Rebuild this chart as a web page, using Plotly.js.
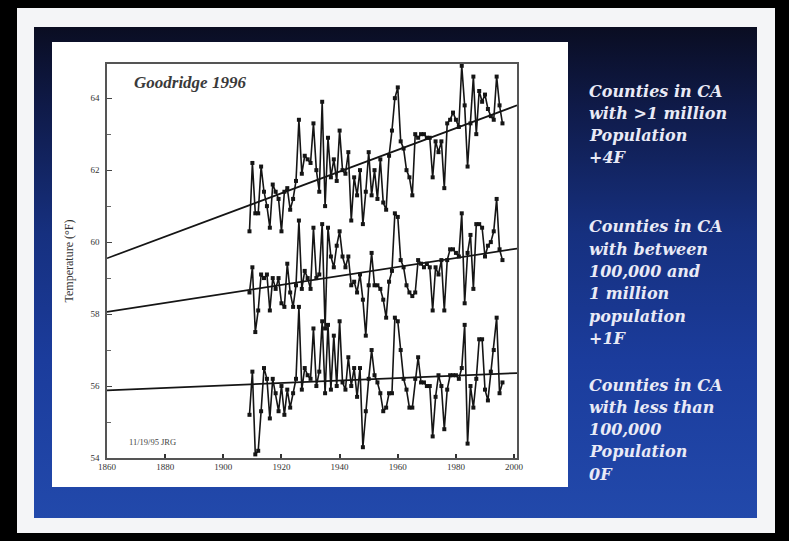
<!DOCTYPE html>
<html>
<head>
<meta charset="utf-8">
<script src="https://cdn.plot.ly/plotly-3.0.1.min.js"></script>
<style>
  html, body { margin:0; padding:0; background:#000; }
  #wrap { position:relative; width:789px; height:541px; background:#000; overflow:hidden; }
  #frame { position:absolute; left:17px; top:8px; width:758px; height:525px; background:#f4f5f7; }
  #blue { position:absolute; left:34px; top:27px; width:723px; height:491px;
          background: linear-gradient(180deg, #0a0d22 0%, #0f1a48 16%, #16307f 42%, #1b3c9c 68%, #2249ab 100%); }
  #chart { position:absolute; left:0; top:0; width:789px; height:541px; }
</style>
</head>
<body>
<div id="wrap">
  <div id="frame"></div>
  <div id="blue"></div>
  <div id="chart"></div>
</div>
<script>
// Years of record
var years = [];
for (var y = 1909; y <= 1996; y++) years.push(y);

// Counties > 1 million population
var bigCounties = [
 60.3,62.2,60.8,60.8,62.1,61.4,61.0,60.4,61.6,61.4,
 61.2,60.3,61.4,61.5,60.9,61.2,61.7,63.4,61.9,62.4,
 62.3,62.2,63.3,62.0,61.4,63.9,61.0,62.9,61.8,62.3,
 61.7,63.1,62.0,61.9,62.5,60.6,61.8,61.3,62.0,60.5,
 61.4,62.5,61.3,62.0,61.2,62.3,61.1,60.9,62.4,63.1,
 64.0,64.3,62.8,62.6,62.0,61.8,61.3,63.0,62.9,63.0,
 63.0,62.9,62.9,61.8,62.8,62.5,62.8,61.5,63.3,63.4,
 63.6,63.4,63.2,64.9,63.8,62.1,63.3,64.6,63.0,64.2,
 63.9,64.1,63.7,63.5,63.4,64.6,63.8,63.3
];

// Counties 100,000 – 1 million population
var midCounties = [
 58.6,59.3,57.5,58.1,59.1,59.0,59.1,58.1,59.0,58.7,
 59.0,58.3,58.2,59.4,58.6,58.2,58.8,60.6,58.7,59.2,
 59.0,58.7,60.4,59.0,59.1,60.5,57.6,60.4,59.6,59.3,
 59.9,60.3,59.6,59.3,59.6,58.8,58.9,58.6,59.1,58.4,
 57.4,58.8,59.7,58.8,58.8,58.7,58.4,57.9,58.9,59.2,
 60.8,60.7,59.5,59.3,58.8,58.6,58.5,58.6,59.5,59.4,
 59.3,59.4,59.3,58.1,59.3,59.1,59.5,58.1,59.5,59.8,
 59.8,59.7,59.6,60.8,58.3,59.7,60.2,58.7,60.5,60.5,
 60.4,59.6,59.9,60.0,60.3,61.2,59.8,59.5
];

// Counties < 100,000 population
var smallCounties = [
 55.2,56.4,54.1,54.2,55.3,56.5,56.2,55.1,56.2,55.8,
 55.3,56.0,55.2,55.9,55.4,55.8,56.2,58.2,55.9,56.5,
 56.3,56.2,57.6,56.0,56.4,57.8,55.8,57.7,55.9,57.4,
 56.0,57.8,56.1,55.9,56.8,56.0,56.5,55.7,56.5,54.3,
 55.3,56.2,57.0,56.3,56.1,55.8,55.3,55.4,55.8,55.8,
 57.9,57.8,57.0,56.2,55.9,55.4,55.4,56.2,56.8,56.1,
 56.1,56.0,56.0,54.6,55.7,56.3,56.0,54.8,55.9,56.3,
 56.3,56.3,56.2,56.5,57.7,54.4,56.0,55.4,56.2,57.3,
 57.3,55.9,55.6,56.4,57.0,57.9,55.8,56.1
];

// Linear trend lines (end points)
var trendYears = [1860, 2001];
var trendBig   = [59.55, 63.80];
var trendMid   = [58.06, 59.82];
var trendSmall = [55.88, 56.36];

var xTicks = [1860, 1880, 1900, 1920, 1940, 1960, 1980, 2000];
var yTicks = [54, 56, 58, 60, 62, 64];

var sideText = [
  ["Counties in CA", "with >1 million", "Population", "+4F"],
  ["Counties in CA", "with between", "100,000 and", "1 million", "population", "+1F"],
  ["Counties in CA", "with less than", "100,000", "Population", "0F"]
];

function dataTrace(v) {
  return {x: years, y: v, type: 'scatter', mode: 'lines+markers',
          line: {color: '#151515', width: 1.6},
          marker: {color: '#151515', size: 4, symbol: 'square'},
          hoverinfo: 'skip', showlegend: false};
}
function trendTrace(v) {
  return {x: trendYears, y: v, type: 'scatter', mode: 'lines',
          line: {color: '#151515', width: 1.7}, hoverinfo: 'skip', showlegend: false};
}

var traces = [
  trendTrace(trendBig), trendTrace(trendMid), trendTrace(trendSmall),
  dataTrace(bigCounties), dataTrace(midCounties), dataTrace(smallCounties)
];

// plot area in pixels: left 107, right 517, top 64, bottom 458
var L = 107, R = 272, T = 64, B = 83, W = 789 - L - R, H = 541 - T - B;
function px(x) { return (x - L) / W; }
function py(y) { return (541 - B - y) / H; }

var annotations = [
  {text: '<b><i>Goodridge 1996</i></b>', xref: 'paper', yref: 'paper', x: px(132), y: py(82),
   xanchor: 'left', yanchor: 'middle', showarrow: false,
   font: {family: 'Liberation Serif, serif', size: 17, color: '#3a3a3a'}},
  {text: '11/19/95 JRG', xref: 'paper', yref: 'paper', x: px(127), y: py(442),
   xanchor: 'left', yanchor: 'middle', showarrow: false,
   font: {family: 'Liberation Serif, serif', size: 8.5, color: '#444'}}
];
var blockTop = [91, 227, 385];
var lineH = 22.3;
sideText.forEach(function (block, bi) {
  block.forEach(function (line, li) {
    annotations.push({
      text: '<b><i>' + line + '</i></b>', xref: 'paper', yref: 'paper',
      x: px(587), y: py(blockTop[bi] + li * lineH), xanchor: 'left', yanchor: 'middle',
      showarrow: false,
      font: {family: 'DejaVu Serif, serif', size: 16, color: '#e9eaf6'}
    });
  });
});

var layout = {
  width: 789, height: 541,
  margin: {l: L, r: R, t: T, b: B},
  paper_bgcolor: 'rgba(0,0,0,0)',
  plot_bgcolor: '#ffffff',
  showlegend: false,
  xaxis: {
    range: [1860, 2001], tickvals: xTicks, ticktext: xTicks.map(String),
    ticks: 'inside', ticklen: 4, tickwidth: 2, tickcolor: '#333',
    showline: true, mirror: true, linecolor: '#555', linewidth: 1.6,
    showgrid: false, zeroline: false,
    tickfont: {family: 'Liberation Serif, serif', size: 9, color: '#333'}
  },
  yaxis: {
    range: [54, 64.95], tickvals: yTicks, ticktext: yTicks.map(String),
    ticks: 'inside', ticklen: 5, tickwidth: 1, tickcolor: '#444',
    minor: {dtick: 1, ticks: 'inside', ticklen: 4, tickcolor: '#666'},
    showline: true, mirror: true, linecolor: '#555', linewidth: 1.6,
    showgrid: false, zeroline: false, ticklabelstandoff: 4,
    tickfont: {family: 'Liberation Serif, serif', size: 9, color: '#333'},
    title: {text: 'Temperature (°F)', standoff: 14,
            font: {family: 'Liberation Serif, serif', size: 12, color: '#333'}}
  },
  shapes: [
    {type: 'rect', xref: 'paper', yref: 'paper', layer: 'below',
     x0: px(52), x1: px(568), y0: py(487), y1: py(42),
     fillcolor: '#ffffff', line: {width: 0}}
  ],
  annotations: annotations
};

Plotly.newPlot('chart', traces, layout, {displayModeBar: false, staticPlot: true});
</script>
</body>
</html>
